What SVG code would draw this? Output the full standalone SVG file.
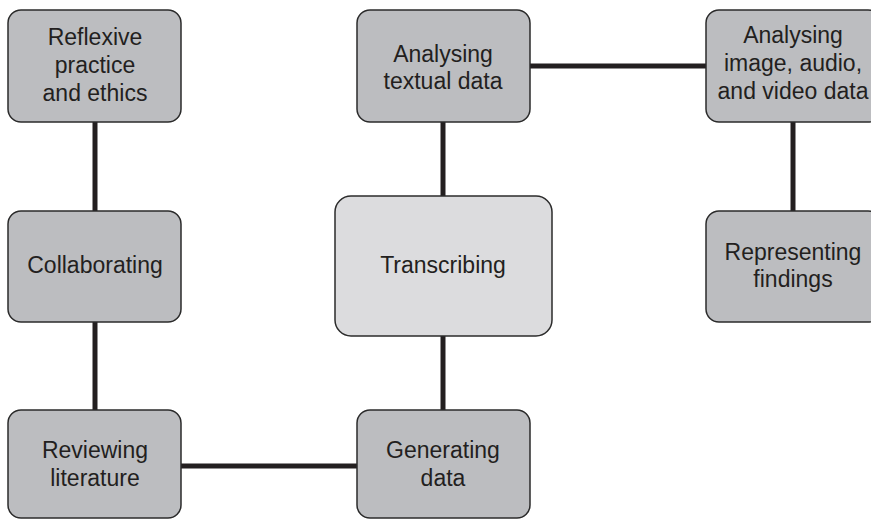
<svg xmlns="http://www.w3.org/2000/svg" width="871" height="519" viewBox="0 0 871 519">
<style>
.box{fill:#bcbdc0;stroke:#2b2b2b;stroke-width:1.5}
.light{fill:#dcdcde}
.lbl{font-family:"Liberation Sans",Arial,sans-serif;font-size:23px;fill:#231f20;text-anchor:middle}
.con{stroke:#231f20;stroke-width:5;fill:none}
</style>
<rect width="871" height="519" fill="#ffffff"/>
<g id="connectors">
<line class="con" x1="95" y1="122" x2="95" y2="211"/>
<line class="con" x1="95" y1="322" x2="95" y2="410"/>
<line class="con" x1="181" y1="466" x2="357" y2="466"/>
<line class="con" x1="443" y1="336" x2="443" y2="410"/>
<line class="con" x1="443" y1="122" x2="443" y2="196"/>
<line class="con" x1="530" y1="66" x2="706" y2="66"/>
<line class="con" x1="793" y1="122" x2="793" y2="211"/>
</g>
<g id="reflexive">
<rect class="box" x="8" y="10" width="173" height="112" rx="13"/>
<text class="lbl" x="95" y="45">Reflexive</text>
<text class="lbl" x="95" y="73">practice</text>
<text class="lbl" x="95" y="101">and ethics</text>
</g>
<g id="collaborating">
<rect class="box" x="8" y="211" width="173" height="111" rx="13"/>
<text class="lbl" x="95" y="273">Collaborating</text>
</g>
<g id="reviewing">
<rect class="box" x="8" y="410" width="173" height="108" rx="13"/>
<text class="lbl" x="95" y="458">Reviewing</text>
<text class="lbl" x="95" y="486">literature</text>
</g>
<g id="generating">
<rect class="box" x="357" y="410" width="173" height="108" rx="13"/>
<text class="lbl" x="443" y="458">Generating</text>
<text class="lbl" x="443" y="486">data</text>
</g>
<g id="transcribing">
<rect class="box light" x="335" y="196" width="217" height="140" rx="16"/>
<text class="lbl" x="443" y="273">Transcribing</text>
</g>
<g id="analysing-textual">
<rect class="box" x="357" y="10" width="173" height="112" rx="13"/>
<text class="lbl" x="443" y="62">Analysing</text>
<text class="lbl" x="443" y="89">textual data</text>
</g>
<g id="analysing-image">
<rect class="box" x="706" y="10" width="175" height="112" rx="13"/>
<text class="lbl" x="793" y="43">Analysing</text>
<text class="lbl" x="793" y="71">image, audio,</text>
<text class="lbl" x="793" y="99">and video data</text>
</g>
<g id="representing">
<rect class="box" x="706" y="211" width="175" height="111" rx="13"/>
<text class="lbl" x="793" y="260">Representing</text>
<text class="lbl" x="793" y="287">findings</text>
</g>
</svg>
